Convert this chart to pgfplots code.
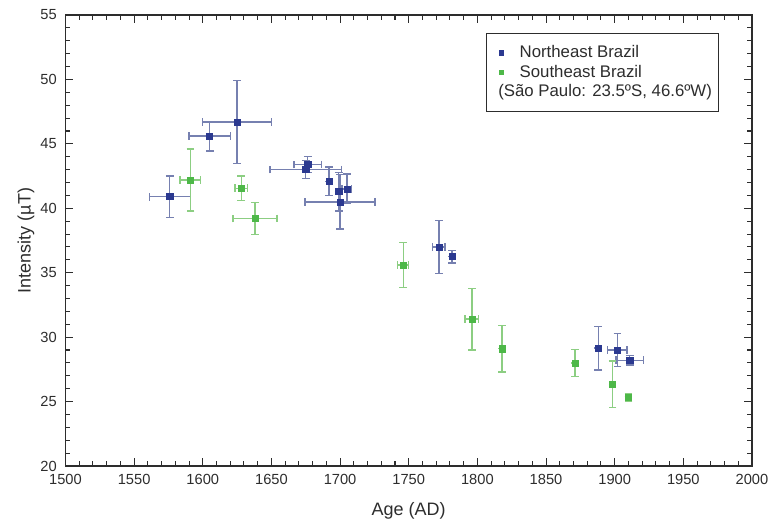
\documentclass[border=0pt]{standalone}
\usepackage{fontspec}
\setmainfont{Liberation Sans}
\usepackage{pgfplots}
\pgfplotsset{compat=1.18}

\definecolor{neblue}{RGB}{43,57,144}
\definecolor{nebar}{RGB}{118,128,176}
\definecolor{segreen}{RGB}{77,184,72}
\definecolor{sebar}{RGB}{140,206,130}
\definecolor{axgray}{RGB}{45,45,45}

\begin{document}
\begin{tikzpicture}
% fixed page frame, 774x525 px at 0.75pt per px
\useasboundingbox (-49.1pt,-44.25pt) rectangle (531.4pt,349.5pt);
\begin{axis}[
  at={(0,0)}, anchor=south west,
  scale only axis,
  width=514.9pt, height=338.25pt,
  xmin=1500, xmax=2000, ymin=20, ymax=55,
  xtick distance=50, ytick distance=5,
  minor x tick num=4, minor y tick num=4,
  major tick length=6pt, minor tick length=3.5pt,
  tick align=inside,
  axis line style={draw=axgray, line width=0.9pt},
  tick style={draw=axgray, line width=0.8pt},
  ticklabel style={font=\fontsize{11}{13}\selectfont, text=axgray},
  xticklabel style={yshift=-2.5pt},
  yticklabel style={xshift=-3pt},
  /pgf/number format/assume math mode=true,
  /pgf/number format/set thousands separator={},
  xlabel={Age (AD)},
  ylabel={Intensity (µT)},
  label style={font=\fontsize{13.5}{15}\selectfont, text=axgray},
  xlabel style={at={(axis description cs:0.5,-0.0998)}, anchor=center},
  ylabel style={at={(axis description cs:-0.0575,0.5)}, anchor=center},
  legend style={at={(rel axis cs:0.952,0.961)}, anchor=north east,
    draw=axgray, line width=0.6pt, font=\fontsize{12.6}{15}\selectfont,
    text=axgray, row sep=0pt, inner xsep=3pt, inner ysep=7.5pt},
  legend cell align=left,
  legend image post style={mark size=1.75pt},
  error bars/y dir=both, error bars/y explicit,
  error bars/x dir=both, error bars/x explicit,
  error bars/error mark=-,
]
% Northeast Brazil
\addplot[only marks, mark=square*, mark size=2.3pt, color=neblue,
  mark options={draw=neblue, fill=neblue},
  error bars/error bar style={draw=nebar, line width=1pt},
  error bars/error mark options={rotate=90, draw=nebar, mark size=2.9pt, line width=1pt}]
  coordinates {
    (1576,40.9)   +- (15,1.6)
    (1605,45.6)   +- (15,1.15)
    (1625,46.7)   +- (25,3.2)
    (1676.5,43.4) +- (10,0.6)
    (1675,43.0)   +- (26,0.7)
    (1692,42.1)   +- (0,1.1)
    (1699,41.3)   +- (0,1.5)
    (1705,41.5)   +- (3.5,1.15)
    (1700,40.5)   +- (25.5,2.1)
    (1772,37.0)   +- (4.5,2.05)
    (1781.5,36.25) +- (0,0.5)
    (1888,29.15)  +- (0,1.7)
    (1902,29.0)   +- (7,1.3)
    (1911,28.2)   +- (10,0.35)
  };
\addlegendentry{\hspace{10pt}Northeast Brazil}
% Southeast Brazil
\addplot[only marks, mark=square*, mark size=2.3pt, color=segreen,
  mark options={draw=segreen, fill=segreen},
  error bars/error bar style={draw=sebar, line width=1pt},
  error bars/error mark options={rotate=90, draw=sebar, mark size=2.9pt, line width=1pt}]
  coordinates {
    (1591,42.2)   +- (7.5,2.4)
    (1628,41.55)  +- (4.5,0.95)
    (1638,39.2)   +- (16,1.25)
    (1746,35.6)   +- (4,1.75)
    (1796,31.4)   +- (5,2.4)
    (1818,29.1)   +- (0,1.8)
    (1871,28.0)   +- (0,1.05)
    (1898.5,26.35) +- (0,1.8)
    (1910,25.35)  +- (0,0.3)
  };
\addlegendentry{\hspace{10pt}Southeast Brazil}
\addlegendimage{empty legend}
\addlegendentry{\hspace{-6pt}(São Paulo: 23.5ºS, 46.6ºW)}
\end{axis}
\end{tikzpicture}
\end{document}
